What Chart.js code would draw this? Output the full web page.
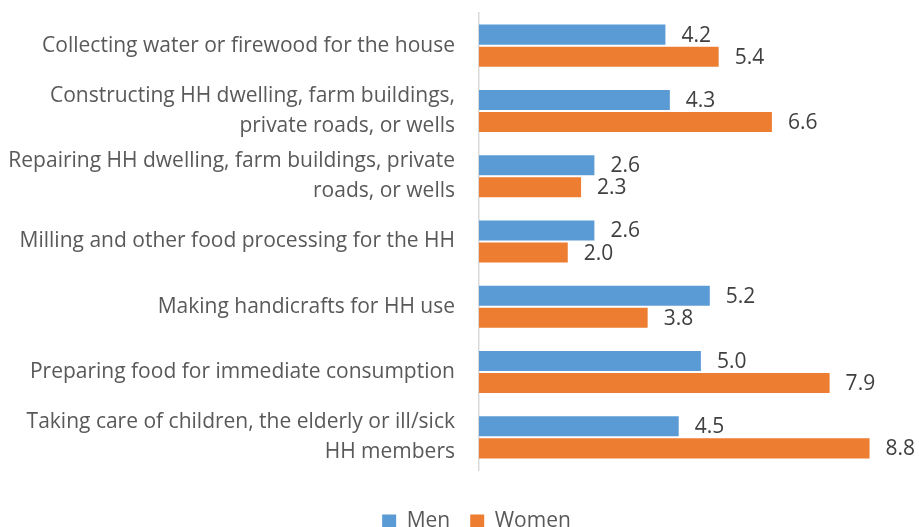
<!DOCTYPE html>
<html>
<head>
<meta charset="utf-8">
<script src="https://cdn.jsdelivr.net/npm/chart.js@4"></script>
<style>
  html, body { margin: 0; padding: 0; background: #fff; overflow: hidden; }
  /* plot area runs past the right edge of the window */
  #wrap { width: 953px; height: 542px; position: relative; }
</style>
</head>
<body>
<div id="wrap"><canvas id="chart"></canvas></div>
<script>
// Activities (multi-line labels as arrays)
const activities = [
    ['Collecting water or firewood for the house'],
    ['Constructing HH dwelling, farm buildings,', 'private roads, or wells'],
    ['Repairing HH dwelling, farm buildings, private', 'roads, or wells'],
    ['Milling and other food processing for the HH'],
    ['Making handicrafts for HH use'],
    ['Preparing food for immediate consumption'],
    ['Taking care of children, the elderly or ill/sick', 'HH members']
];
const men = [4.2, 4.3, 2.6, 2.6, 5.2, 5.0, 4.5];
const women = [5.4, 6.6, 2.3, 2.0, 3.8, 7.9, 8.8];

const FONT = '"Open Sans", "Segoe UI", sans-serif';

// Value labels drawn just past the end of each bar
const valueLabels = {
    id: 'valueLabels',
    afterDatasetsDraw(chart) {
        const ctx = chart.ctx;
        ctx.save();
        ctx.font = '21px ' + FONT;
        ctx.fillStyle = '#404040';
        ctx.textAlign = 'left';
        ctx.textBaseline = 'middle';
        chart.data.datasets.forEach((ds, i) => {
            chart.getDatasetMeta(i).data.forEach((bar, j) => {
                ctx.fillText(ds.data[j].toFixed(1), bar.x + 16, bar.y + 1);
            });
        });
        ctx.restore();
    }
};

new Chart(document.getElementById('chart'), {
    type: 'bar',
    data: {
        labels: activities,
        datasets: [
            { label: 'Men', data: men, backgroundColor: '#5B9BD5' },
            { label: 'Women', data: women, backgroundColor: '#ED7D31' }
        ]
    },
    options: {
        indexAxis: 'y',
        responsive: true,
        maintainAspectRatio: false,
        animation: false,
        categoryPercentage: 0.675,
        barPercentage: 0.91,
        layout: { padding: { top: 13, right: 0, left: 0, bottom: 0 } },
        scales: {
            x: {
                min: 0,
                max: 10.68,
                grid: { display: false },
                border: { display: false },
                ticks: { display: false },
                afterFit(scale) { scale.height = 21; }
            },
            y: {
                grid: { display: false, drawTicks: false },
                border: { display: true, color: '#D9D9D9', width: 1.5 },
                ticks: {
                    color: '#595959',
                    padding: 24,
                    autoSkip: false,
                    font: { family: FONT, size: 21, lineHeight: 1.42 }
                },
                afterFit(scale) {
                    scale.width = 479;
                    scale.paddingTop = 0;
                    scale.paddingBottom = 0;
                }
            }
        },
        plugins: {
            legend: {
                position: 'bottom',
                labels: {
                    color: '#595959',
                    boxWidth: 14,
                    boxHeight: 14,
                    padding: 20,
                    font: { family: FONT, size: 21 }
                }
            },
            tooltip: { enabled: false }
        }
    },
    plugins: [valueLabels]
});
</script>
</body>
</html>
